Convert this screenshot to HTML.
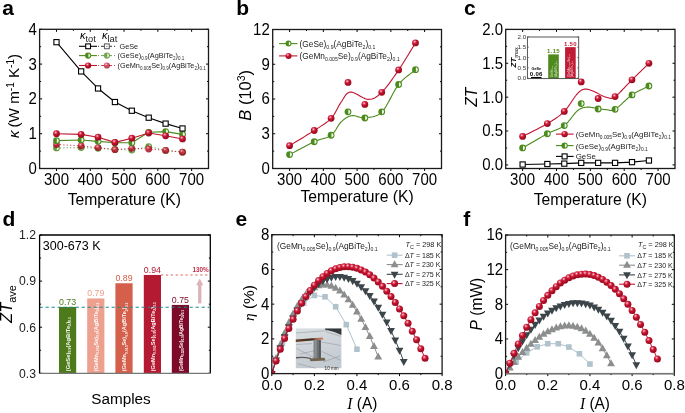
<!DOCTYPE html>
<html><head><meta charset="utf-8"><style>html,body{margin:0;padding:0;background:#fff;}svg{display:block;will-change:transform;}</style></head>
<body><svg width="685" height="413" viewBox="0 0 685 413"><defs><radialGradient id="gr" cx="0.38" cy="0.32" r="0.7"><stop offset="0" stop-color="#ffe4ea"/><stop offset="0.2" stop-color="#e65a72"/><stop offset="0.45" stop-color="#c4122e"/><stop offset="1" stop-color="#920a1e"/></radialGradient><filter id="soft"><feGaussianBlur stdDeviation="0.6"/></filter></defs><rect width="685" height="413" fill="#fff"/><text transform="translate(2.20 15.40)" font-size="21" text-anchor="start" font-weight="bold" font-style="normal" fill="#000" font-family='"Liberation Sans", sans-serif'>a</text><text transform="translate(236.20 15.40)" font-size="21" text-anchor="start" font-weight="bold" font-style="normal" fill="#000" font-family='"Liberation Sans", sans-serif'>b</text><text transform="translate(464.00 15.40)" font-size="21" text-anchor="start" font-weight="bold" font-style="normal" fill="#000" font-family='"Liberation Sans", sans-serif'>c</text><text transform="translate(2.40 226.00)" font-size="21" text-anchor="start" font-weight="bold" font-style="normal" fill="#000" font-family='"Liberation Sans", sans-serif'>d</text><text transform="translate(235.40 226.00)" font-size="21" text-anchor="start" font-weight="bold" font-style="normal" fill="#000" font-family='"Liberation Sans", sans-serif'>e</text><text transform="translate(463.20 226.00)" font-size="21" text-anchor="start" font-weight="bold" font-style="normal" fill="#000" font-family='"Liberation Sans", sans-serif'>f</text><path d="M39.60 168.50h2.5M208.50 168.50h-2.5M39.60 133.70h2.5M208.50 133.70h-2.5M39.60 98.90h2.5M208.50 98.90h-2.5M39.60 64.10h2.5M208.50 64.10h-2.5M39.60 29.30h2.5M208.50 29.30h-2.5M39.60 151.10h1.5M208.50 151.10h-1.5M39.60 116.30h1.5M208.50 116.30h-1.5M39.60 81.50h1.5M208.50 81.50h-1.5M39.60 46.70h1.5M208.50 46.70h-1.5M56.49 168.50v2.5M56.49 29.30v2.5M90.27 168.50v2.5M90.27 29.30v2.5M124.05 168.50v2.5M124.05 29.30v2.5M157.83 168.50v2.5M157.83 29.30v2.5M191.61 168.50v2.5M191.61 29.30v2.5M73.38 168.50v1.5M73.38 29.30v1.5M107.16 168.50v1.5M107.16 29.30v1.5M140.94 168.50v1.5M140.94 29.30v1.5M174.72 168.50v1.5M174.72 29.30v1.5" stroke="#000" stroke-width="1" fill="none"/><text transform="translate(56.49 184.60) scale(1 1.08)" font-size="15" text-anchor="middle" font-weight="normal" font-style="normal" fill="#000" font-family='"Liberation Sans", sans-serif'>300</text><text transform="translate(90.27 184.60) scale(1 1.08)" font-size="15" text-anchor="middle" font-weight="normal" font-style="normal" fill="#000" font-family='"Liberation Sans", sans-serif'>400</text><text transform="translate(124.05 184.60) scale(1 1.08)" font-size="15" text-anchor="middle" font-weight="normal" font-style="normal" fill="#000" font-family='"Liberation Sans", sans-serif'>500</text><text transform="translate(157.83 184.60) scale(1 1.08)" font-size="15" text-anchor="middle" font-weight="normal" font-style="normal" fill="#000" font-family='"Liberation Sans", sans-serif'>600</text><text transform="translate(191.61 184.60) scale(1 1.08)" font-size="15" text-anchor="middle" font-weight="normal" font-style="normal" fill="#000" font-family='"Liberation Sans", sans-serif'>700</text><text transform="translate(36.80 173.90) scale(1 1.08)" font-size="15" text-anchor="end" font-weight="normal" font-style="normal" fill="#000" font-family='"Liberation Sans", sans-serif'>0</text><text transform="translate(36.80 139.10) scale(1 1.08)" font-size="15" text-anchor="end" font-weight="normal" font-style="normal" fill="#000" font-family='"Liberation Sans", sans-serif'>1</text><text transform="translate(36.80 104.30) scale(1 1.08)" font-size="15" text-anchor="end" font-weight="normal" font-style="normal" fill="#000" font-family='"Liberation Sans", sans-serif'>2</text><text transform="translate(36.80 69.50) scale(1 1.08)" font-size="15" text-anchor="end" font-weight="normal" font-style="normal" fill="#000" font-family='"Liberation Sans", sans-serif'>3</text><text transform="translate(36.80 34.70) scale(1 1.08)" font-size="15" text-anchor="end" font-weight="normal" font-style="normal" fill="#000" font-family='"Liberation Sans", sans-serif'>4</text><text transform="translate(124.30 204.90) scale(1 1.05)" font-size="15.7" text-anchor="middle" font-weight="normal" font-style="normal" fill="#000" font-family='"Liberation Sans", sans-serif'>Temperature (K)</text><text transform="translate(18.60 96.00) rotate(-90)" font-size="15.2" text-anchor="middle" font-weight="normal" font-style="normal" fill="#000" font-family='"Liberation Sans", sans-serif'><tspan font-style="italic">κ</tspan><tspan dx="3">(W m</tspan><tspan dy="-5" font-size="10">-1</tspan><tspan dy="5"> K</tspan><tspan dy="-5" font-size="10">-1</tspan><tspan dy="5">)</tspan></text><path d="M56.49 147.97 L81.15 147.62 L98.04 148.32 L114.93 149.36 L131.82 150.06 L148.71 146.58 L165.60 150.40 L182.49 152.14" stroke="#4b8a1c" stroke-width="1.0" fill="none" stroke-dasharray="1.2 2.2" opacity="0.8" stroke-linejoin="round"/><path d="M56.49 144.49 L81.15 145.88 L98.04 147.62 L114.93 149.71 L131.82 148.32 L148.71 149.01 L165.60 150.40 L182.49 152.14" stroke="#c0142e" stroke-width="1.0" fill="none" stroke-dasharray="1.2 2.2" opacity="0.8" stroke-linejoin="round"/><g opacity="0.85"><circle cx="56.49" cy="147.97" r="3.4" fill="#4b8a1c"/><path d="M56.84 145.64A2.35 2.35 0 0 1 56.84 150.29Z" fill="#fff" opacity="0.92"/></g><g opacity="0.85"><circle cx="81.15" cy="147.62" r="3.4" fill="#4b8a1c"/><path d="M81.50 145.30A2.35 2.35 0 0 1 81.50 149.94Z" fill="#fff" opacity="0.92"/></g><g opacity="0.85"><circle cx="98.04" cy="148.32" r="3.4" fill="#4b8a1c"/><path d="M98.39 145.99A2.35 2.35 0 0 1 98.39 150.64Z" fill="#fff" opacity="0.92"/></g><g opacity="0.85"><circle cx="114.93" cy="149.36" r="3.4" fill="#4b8a1c"/><path d="M115.28 147.04A2.35 2.35 0 0 1 115.28 151.68Z" fill="#fff" opacity="0.92"/></g><g opacity="0.85"><circle cx="131.82" cy="150.06" r="3.4" fill="#4b8a1c"/><path d="M132.17 147.73A2.35 2.35 0 0 1 132.17 152.38Z" fill="#fff" opacity="0.92"/></g><g opacity="0.85"><circle cx="148.71" cy="146.58" r="3.4" fill="#4b8a1c"/><path d="M149.06 144.25A2.35 2.35 0 0 1 149.06 148.90Z" fill="#fff" opacity="0.92"/></g><g opacity="0.85"><circle cx="165.60" cy="150.40" r="3.4" fill="#4b8a1c"/><path d="M165.95 148.08A2.35 2.35 0 0 1 165.95 152.73Z" fill="#fff" opacity="0.92"/></g><g opacity="0.85"><circle cx="182.49" cy="152.14" r="3.4" fill="#4b8a1c"/><path d="M182.84 149.82A2.35 2.35 0 0 1 182.84 154.47Z" fill="#fff" opacity="0.92"/></g><circle cx="56.49" cy="144.49" r="3.4" fill="url(#gr)" opacity="0.85"/><circle cx="81.15" cy="145.88" r="3.4" fill="url(#gr)" opacity="0.85"/><circle cx="98.04" cy="147.62" r="3.4" fill="url(#gr)" opacity="0.85"/><circle cx="114.93" cy="149.71" r="3.4" fill="url(#gr)" opacity="0.85"/><circle cx="131.82" cy="148.32" r="3.4" fill="url(#gr)" opacity="0.85"/><circle cx="148.71" cy="149.01" r="3.4" fill="url(#gr)" opacity="0.85"/><circle cx="165.60" cy="150.40" r="3.4" fill="url(#gr)" opacity="0.85"/><circle cx="182.49" cy="152.14" r="3.4" fill="url(#gr)" opacity="0.85"/><path d="M56.49 140.66 L81.15 139.96 L98.04 141.36 L114.93 142.75 L131.82 142.75 L148.71 132.31 L165.60 131.61 L182.49 134.40" stroke="#4b8a1c" stroke-width="1.1" fill="none" opacity="1" stroke-linejoin="round"/><g opacity="1"><circle cx="56.49" cy="140.66" r="3.4" fill="#4b8a1c"/><path d="M56.84 138.34A2.35 2.35 0 0 1 56.84 142.98Z" fill="#fff" opacity="0.92"/></g><g opacity="1"><circle cx="81.15" cy="139.96" r="3.4" fill="#4b8a1c"/><path d="M81.50 137.64A2.35 2.35 0 0 1 81.50 142.29Z" fill="#fff" opacity="0.92"/></g><g opacity="1"><circle cx="98.04" cy="141.36" r="3.4" fill="#4b8a1c"/><path d="M98.39 139.03A2.35 2.35 0 0 1 98.39 143.68Z" fill="#fff" opacity="0.92"/></g><g opacity="1"><circle cx="114.93" cy="142.75" r="3.4" fill="#4b8a1c"/><path d="M115.28 140.42A2.35 2.35 0 0 1 115.28 145.07Z" fill="#fff" opacity="0.92"/></g><g opacity="1"><circle cx="131.82" cy="142.75" r="3.4" fill="#4b8a1c"/><path d="M132.17 140.42A2.35 2.35 0 0 1 132.17 145.07Z" fill="#fff" opacity="0.92"/></g><g opacity="1"><circle cx="148.71" cy="132.31" r="3.4" fill="#4b8a1c"/><path d="M149.06 129.98A2.35 2.35 0 0 1 149.06 134.63Z" fill="#fff" opacity="0.92"/></g><g opacity="1"><circle cx="165.60" cy="131.61" r="3.4" fill="#4b8a1c"/><path d="M165.95 129.29A2.35 2.35 0 0 1 165.95 133.94Z" fill="#fff" opacity="0.92"/></g><g opacity="1"><circle cx="182.49" cy="134.40" r="3.4" fill="#4b8a1c"/><path d="M182.84 132.07A2.35 2.35 0 0 1 182.84 136.72Z" fill="#fff" opacity="0.92"/></g><path d="M56.49 133.70 L81.15 134.40 L98.04 137.18 L114.93 142.40 L131.82 138.22 L148.71 133.00 L165.60 135.79 L182.49 138.92" stroke="#c0142e" stroke-width="1.1" fill="none" opacity="1" stroke-linejoin="round"/><circle cx="56.49" cy="133.70" r="3.4" fill="url(#gr)" opacity="1"/><circle cx="81.15" cy="134.40" r="3.4" fill="url(#gr)" opacity="1"/><circle cx="98.04" cy="137.18" r="3.4" fill="url(#gr)" opacity="1"/><circle cx="114.93" cy="142.40" r="3.4" fill="url(#gr)" opacity="1"/><circle cx="131.82" cy="138.22" r="3.4" fill="url(#gr)" opacity="1"/><circle cx="148.71" cy="133.00" r="3.4" fill="url(#gr)" opacity="1"/><circle cx="165.60" cy="135.79" r="3.4" fill="url(#gr)" opacity="1"/><circle cx="182.49" cy="138.92" r="3.4" fill="url(#gr)" opacity="1"/><path d="M56.49 42.18 L81.15 71.41 L98.04 88.46 L114.93 102.03 L131.82 110.73 L148.71 117.69 L165.60 123.61 L182.49 128.48" stroke="#000" stroke-width="1.1" fill="none" opacity="1" stroke-linejoin="round"/><rect x="53.89" y="39.58" width="5.20" height="5.20" fill="#fff" stroke="#000" stroke-width="1.1"/><rect x="78.55" y="68.81" width="5.20" height="5.20" fill="#fff" stroke="#000" stroke-width="1.1"/><rect x="95.44" y="85.86" width="5.20" height="5.20" fill="#fff" stroke="#000" stroke-width="1.1"/><rect x="112.33" y="99.43" width="5.20" height="5.20" fill="#fff" stroke="#000" stroke-width="1.1"/><rect x="129.22" y="108.13" width="5.20" height="5.20" fill="#fff" stroke="#000" stroke-width="1.1"/><rect x="146.11" y="115.09" width="5.20" height="5.20" fill="#fff" stroke="#000" stroke-width="1.1"/><rect x="163.00" y="121.01" width="5.20" height="5.20" fill="#fff" stroke="#000" stroke-width="1.1"/><rect x="179.89" y="125.88" width="5.20" height="5.20" fill="#fff" stroke="#000" stroke-width="1.1"/><text transform="translate(80.00 38.70)" font-size="11" text-anchor="start" font-weight="normal" font-style="normal" fill="#000" font-family='"Liberation Sans", sans-serif'><tspan font-style="italic">κ</tspan><tspan dy="2.8" font-size="9.4" fill="#222">tot</tspan></text><text transform="translate(102.00 38.70)" font-size="11" text-anchor="start" font-weight="normal" font-style="normal" fill="#000" font-family='"Liberation Sans", sans-serif'><tspan font-style="italic">κ</tspan><tspan dy="2.8" font-size="9.4" fill="#222">lat</tspan></text><path d="M79 46.3H97" stroke="#000" stroke-width="1.1"/><path d="M98 46.3H117" stroke="#000" stroke-width="1" stroke-dasharray="1 2 3 2" opacity="0.8"/><rect x="85.70" y="43.90" width="4.80" height="4.80" fill="#fff" stroke="#000" stroke-width="1.1"/><rect x="104.50" y="43.90" width="4.80" height="4.80" fill="#fff" stroke="#666" stroke-width="1.1"/><circle cx="106.9" cy="46.3" r="0.6" fill="#666"/><path d="M79 55.6H97" stroke="#4b8a1c" stroke-width="1.1"/><path d="M98 55.6H117" stroke="#4b8a1c" stroke-width="1" stroke-dasharray="1 2 3 2" opacity="0.8"/><g opacity="1"><circle cx="88.10" cy="55.60" r="3.1" fill="#4b8a1c"/><path d="M88.45 53.58A2.05 2.05 0 0 1 88.45 57.62Z" fill="#fff" opacity="0.92"/></g><g opacity="0.75"><circle cx="106.90" cy="55.60" r="3.1" fill="#4b8a1c"/><path d="M107.25 53.58A2.05 2.05 0 0 1 107.25 57.62Z" fill="#fff" opacity="0.92"/></g><path d="M79 65.5H97" stroke="#c0142e" stroke-width="1.1"/><path d="M98 65.5H117" stroke="#c0142e" stroke-width="1" stroke-dasharray="1 2 3 2" opacity="0.8"/><circle cx="88.10" cy="65.50" r="3.1" fill="url(#gr)" opacity="1"/><circle cx="106.90" cy="65.50" r="3.1" fill="url(#gr)" opacity="0.75"/><text transform="translate(119.50 48.90)" font-size="7.3" text-anchor="start" font-weight="normal" font-style="normal" fill="#222" font-family='"Liberation Sans", sans-serif'>GeSe</text><text transform="translate(117.60 58.20)" font-size="7.3" text-anchor="start" font-weight="normal" font-style="normal" fill="#222" font-family='"Liberation Sans", sans-serif'><tspan dy="0.00" font-size="7.30">(GeSe)</tspan><tspan dy="2.04" font-size="4.53">0.9</tspan><tspan dy="-2.04" font-size="7.30">(AgBiTe</tspan><tspan dy="2.04" font-size="4.53">2</tspan><tspan dy="-2.04" font-size="7.30">)</tspan><tspan dy="2.04" font-size="4.53">0.1</tspan></text><text transform="translate(117.60 68.10)" font-size="7.3" text-anchor="start" font-weight="normal" font-style="normal" fill="#222" font-family='"Liberation Sans", sans-serif'><tspan dy="0.00" font-size="7.30">(GeMn</tspan><tspan dy="2.04" font-size="4.53">0.005</tspan><tspan dy="-2.04" font-size="7.30">Se)</tspan><tspan dy="2.04" font-size="4.53">0.9</tspan><tspan dy="-2.04" font-size="7.30">(AgBiTe</tspan><tspan dy="2.04" font-size="4.53">2</tspan><tspan dy="-2.04" font-size="7.30">)</tspan><tspan dy="2.04" font-size="4.53">0.1</tspan></text><rect x="39.60" y="29.30" width="168.90" height="139.20" fill="none" stroke="#1a1a1a" stroke-width="1.3"/><path d="M272.70 168.50h2.5M441.50 168.50h-2.5M272.70 133.75h2.5M441.50 133.75h-2.5M272.70 99.00h2.5M441.50 99.00h-2.5M272.70 64.25h2.5M441.50 64.25h-2.5M272.70 29.50h2.5M441.50 29.50h-2.5M272.70 151.12h1.5M441.50 151.12h-1.5M272.70 116.38h1.5M441.50 116.38h-1.5M272.70 81.62h1.5M441.50 81.62h-1.5M272.70 46.88h1.5M441.50 46.88h-1.5M289.58 168.50v2.5M289.58 29.50v2.5M323.34 168.50v2.5M323.34 29.50v2.5M357.10 168.50v2.5M357.10 29.50v2.5M390.86 168.50v2.5M390.86 29.50v2.5M424.62 168.50v2.5M424.62 29.50v2.5M306.46 168.50v1.5M306.46 29.50v1.5M340.22 168.50v1.5M340.22 29.50v1.5M373.98 168.50v1.5M373.98 29.50v1.5M407.74 168.50v1.5M407.74 29.50v1.5" stroke="#000" stroke-width="1" fill="none"/><text transform="translate(289.58 184.60) scale(1 1.08)" font-size="15" text-anchor="middle" font-weight="normal" font-style="normal" fill="#000" font-family='"Liberation Sans", sans-serif'>300</text><text transform="translate(323.34 184.60) scale(1 1.08)" font-size="15" text-anchor="middle" font-weight="normal" font-style="normal" fill="#000" font-family='"Liberation Sans", sans-serif'>400</text><text transform="translate(357.10 184.60) scale(1 1.08)" font-size="15" text-anchor="middle" font-weight="normal" font-style="normal" fill="#000" font-family='"Liberation Sans", sans-serif'>500</text><text transform="translate(390.86 184.60) scale(1 1.08)" font-size="15" text-anchor="middle" font-weight="normal" font-style="normal" fill="#000" font-family='"Liberation Sans", sans-serif'>600</text><text transform="translate(424.62 184.60) scale(1 1.08)" font-size="15" text-anchor="middle" font-weight="normal" font-style="normal" fill="#000" font-family='"Liberation Sans", sans-serif'>700</text><text transform="translate(269.80 173.90) scale(1 1.08)" font-size="15" text-anchor="end" font-weight="normal" font-style="normal" fill="#000" font-family='"Liberation Sans", sans-serif'>0</text><text transform="translate(269.80 139.15) scale(1 1.08)" font-size="15" text-anchor="end" font-weight="normal" font-style="normal" fill="#000" font-family='"Liberation Sans", sans-serif'>3</text><text transform="translate(269.80 104.40) scale(1 1.08)" font-size="15" text-anchor="end" font-weight="normal" font-style="normal" fill="#000" font-family='"Liberation Sans", sans-serif'>6</text><text transform="translate(269.80 69.65) scale(1 1.08)" font-size="15" text-anchor="end" font-weight="normal" font-style="normal" fill="#000" font-family='"Liberation Sans", sans-serif'>9</text><text transform="translate(269.80 34.90) scale(1 1.08)" font-size="15" text-anchor="end" font-weight="normal" font-style="normal" fill="#000" font-family='"Liberation Sans", sans-serif'>12</text><text transform="translate(357.10 201.80) scale(1 1.05)" font-size="15.7" text-anchor="middle" font-weight="normal" font-style="normal" fill="#000" font-family='"Liberation Sans", sans-serif'>Temperature (K)</text><text transform="translate(250.60 95.30) rotate(-90)" font-size="16.5" text-anchor="middle" font-weight="normal" font-style="normal" fill="#000" font-family='"Liberation Sans", sans-serif'><tspan font-style="italic">B</tspan> (10<tspan dy="-6" font-size="10.5">3</tspan><tspan dy="6">)</tspan></text><path d="M289.58 154.60 L291.66 153.51 L293.78 152.38 L295.92 151.24 L298.08 150.08 L300.24 148.92 L302.39 147.77 L304.51 146.65 L306.59 145.56 L308.61 144.51 L310.57 143.52 L312.44 142.59 L314.22 141.74 L315.93 141.00 L317.57 140.37 L319.16 139.83 L320.69 139.35 L322.17 138.92 L323.59 138.51 L324.97 138.10 L326.29 137.67 L327.57 137.19 L328.79 136.65 L329.97 136.01 L331.10 135.26 L332.17 134.38 L333.14 133.38 L334.04 132.29 L334.87 131.14 L335.65 129.94 L336.40 128.71 L337.13 127.49 L337.84 126.29 L338.57 125.13 L339.31 124.04 L340.08 123.05 L340.90 122.17 L341.73 121.37 L342.57 120.61 L343.39 119.88 L344.22 119.20 L345.05 118.57 L345.90 117.98 L346.75 117.45 L347.62 116.97 L348.51 116.55 L349.43 116.20 L350.38 115.90 L351.36 115.68 L352.37 115.57 L353.40 115.61 L354.44 115.75 L355.51 115.99 L356.60 116.28 L357.71 116.61 L358.84 116.93 L360.00 117.24 L361.18 117.49 L362.38 117.66 L363.61 117.72 L364.86 117.65 L366.15 117.52 L367.48 117.41 L368.85 117.30 L370.24 117.17 L371.66 116.98 L373.09 116.72 L374.54 116.35 L375.99 115.85 L377.45 115.20 L378.89 114.38 L380.33 113.35 L381.74 112.09 L383.15 110.52 L384.56 108.62 L385.96 106.45 L387.37 104.06 L388.78 101.52 L390.18 98.88 L391.59 96.22 L393.00 93.58 L394.40 91.03 L395.81 88.63 L397.22 86.44 L398.62 84.52 L400.03 82.84 L401.44 81.31 L402.84 79.92 L404.25 78.63 L405.66 77.44 L407.06 76.31 L408.47 75.23 L409.88 74.16 L411.28 73.10 L412.69 72.02 L414.10 70.89 L415.50 69.69" stroke="#4b8a1c" stroke-width="1.1" fill="none" opacity="1" stroke-linejoin="round"/><path d="M289.58 145.68 L291.66 144.41 L293.78 143.12 L295.92 141.82 L298.08 140.51 L300.24 139.21 L302.39 137.91 L304.51 136.62 L306.59 135.34 L308.61 134.09 L310.57 132.86 L312.44 131.67 L314.22 130.51 L315.93 129.40 L317.57 128.35 L319.16 127.34 L320.69 126.37 L322.17 125.41 L323.59 124.47 L324.97 123.52 L326.29 122.56 L327.57 121.57 L328.79 120.55 L329.97 119.48 L331.10 118.34 L332.17 117.13 L333.15 115.85 L334.06 114.51 L334.91 113.13 L335.70 111.72 L336.46 110.30 L337.20 108.89 L337.92 107.50 L338.64 106.15 L339.37 104.85 L340.11 103.62 L340.90 102.47 L341.67 101.36 L342.39 100.22 L343.08 99.07 L343.76 97.94 L344.43 96.85 L345.12 95.81 L345.83 94.86 L346.58 94.01 L347.40 93.28 L348.29 92.70 L349.27 92.28 L350.35 92.05 L351.56 92.08 L352.89 92.41 L354.33 92.96 L355.85 93.70 L357.43 94.56 L359.04 95.49 L360.67 96.43 L362.29 97.32 L363.88 98.12 L365.41 98.76 L366.88 99.19 L368.24 99.35 L369.51 99.31 L370.71 99.18 L371.85 98.95 L372.94 98.62 L374.01 98.20 L375.06 97.67 L376.10 97.04 L377.16 96.30 L378.23 95.46 L379.35 94.51 L380.52 93.45 L381.74 92.28 L383.03 90.97 L384.36 89.49 L385.73 87.88 L387.12 86.13 L388.54 84.29 L389.97 82.35 L391.42 80.34 L392.87 78.29 L394.33 76.20 L395.77 74.10 L397.21 72.00 L398.62 69.93 L400.03 67.84 L401.44 65.70 L402.84 63.50 L404.25 61.27 L405.66 59.01 L407.06 56.72 L408.47 54.42 L409.88 52.10 L411.28 49.79 L412.69 47.49 L414.10 45.20 L415.50 42.94" stroke="#c0142e" stroke-width="1.1" fill="none" opacity="1" stroke-linejoin="round"/><g opacity="1"><circle cx="289.58" cy="154.60" r="3.4" fill="#4b8a1c"/><path d="M289.93 152.28A2.35 2.35 0 0 1 289.93 156.92Z" fill="#fff" opacity="0.92"/></g><g opacity="1"><circle cx="314.22" cy="141.74" r="3.4" fill="#4b8a1c"/><path d="M314.57 139.42A2.35 2.35 0 0 1 314.57 144.07Z" fill="#fff" opacity="0.92"/></g><g opacity="1"><circle cx="331.10" cy="135.26" r="3.4" fill="#4b8a1c"/><path d="M331.45 132.93A2.35 2.35 0 0 1 331.45 137.58Z" fill="#fff" opacity="0.92"/></g><g opacity="1"><circle cx="347.98" cy="111.86" r="3.4" fill="#4b8a1c"/><path d="M348.33 109.53A2.35 2.35 0 0 1 348.33 114.18Z" fill="#fff" opacity="0.92"/></g><g opacity="1"><circle cx="364.86" cy="118.00" r="3.4" fill="#4b8a1c"/><path d="M365.21 115.67A2.35 2.35 0 0 1 365.21 120.32Z" fill="#fff" opacity="0.92"/></g><g opacity="1"><circle cx="381.74" cy="111.86" r="3.4" fill="#4b8a1c"/><path d="M382.09 109.53A2.35 2.35 0 0 1 382.09 114.18Z" fill="#fff" opacity="0.92"/></g><g opacity="1"><circle cx="398.62" cy="84.52" r="3.4" fill="#4b8a1c"/><path d="M398.97 82.20A2.35 2.35 0 0 1 398.97 86.84Z" fill="#fff" opacity="0.92"/></g><g opacity="1"><circle cx="415.50" cy="69.69" r="3.4" fill="#4b8a1c"/><path d="M415.85 67.37A2.35 2.35 0 0 1 415.85 72.02Z" fill="#fff" opacity="0.92"/></g><circle cx="289.58" cy="145.68" r="3.4" fill="url(#gr)" opacity="1"/><circle cx="314.22" cy="130.51" r="3.4" fill="url(#gr)" opacity="1"/><circle cx="331.10" cy="118.34" r="3.4" fill="url(#gr)" opacity="1"/><circle cx="347.98" cy="82.44" r="3.4" fill="url(#gr)" opacity="1"/><circle cx="364.86" cy="104.44" r="3.4" fill="url(#gr)" opacity="1"/><circle cx="381.74" cy="92.28" r="3.4" fill="url(#gr)" opacity="1"/><circle cx="398.62" cy="69.93" r="3.4" fill="url(#gr)" opacity="1"/><circle cx="415.50" cy="42.94" r="3.4" fill="url(#gr)" opacity="1"/><path d="M279.1 43.6H297.4" stroke="#4b8a1c" stroke-width="1.1"/><g opacity="1"><circle cx="288.50" cy="43.60" r="3.0" fill="#4b8a1c"/><path d="M288.85 41.68A1.95 1.95 0 0 1 288.85 45.52Z" fill="#fff" opacity="0.92"/></g><path d="M279.1 55.9H297.4" stroke="#c0142e" stroke-width="1.1"/><circle cx="288.50" cy="55.90" r="3.0" fill="url(#gr)" opacity="1"/><text transform="translate(299.60 46.60)" font-size="8.3" text-anchor="start" font-weight="normal" font-style="normal" fill="#222" font-family='"Liberation Sans", sans-serif'><tspan dy="0.00" font-size="8.30">(GeSe)</tspan><tspan dy="2.32" font-size="5.15">0.9</tspan><tspan dy="-2.32" font-size="8.30">(AgBiTe</tspan><tspan dy="2.32" font-size="5.15">2</tspan><tspan dy="-2.32" font-size="8.30">)</tspan><tspan dy="2.32" font-size="5.15">0.1</tspan></text><text transform="translate(299.60 58.90)" font-size="8.3" text-anchor="start" font-weight="normal" font-style="normal" fill="#222" font-family='"Liberation Sans", sans-serif'><tspan dy="0.00" font-size="8.30">(GeMn</tspan><tspan dy="2.32" font-size="5.15">0.005</tspan><tspan dy="-2.32" font-size="8.30">Se)</tspan><tspan dy="2.32" font-size="5.15">0.9</tspan><tspan dy="-2.32" font-size="8.30">(AgBiTe</tspan><tspan dy="2.32" font-size="5.15">2</tspan><tspan dy="-2.32" font-size="8.30">)</tspan><tspan dy="2.32" font-size="5.15">0.1</tspan></text><rect x="272.70" y="29.50" width="168.80" height="139.00" fill="none" stroke="#1a1a1a" stroke-width="1.3"/><path d="M505.70 164.91h2.5M675.00 164.91h-2.5M505.70 131.03h2.5M675.00 131.03h-2.5M505.70 97.15h2.5M675.00 97.15h-2.5M505.70 63.28h2.5M675.00 63.28h-2.5M505.70 29.40h2.5M675.00 29.40h-2.5M505.70 147.97h1.5M675.00 147.97h-1.5M505.70 114.09h1.5M675.00 114.09h-1.5M505.70 80.22h1.5M675.00 80.22h-1.5M505.70 46.34h1.5M675.00 46.34h-1.5M522.63 168.50v2.5M522.63 29.40v2.5M556.49 168.50v2.5M556.49 29.40v2.5M590.35 168.50v2.5M590.35 29.40v2.5M624.21 168.50v2.5M624.21 29.40v2.5M658.07 168.50v2.5M658.07 29.40v2.5M539.56 168.50v1.5M539.56 29.40v1.5M573.42 168.50v1.5M573.42 29.40v1.5M607.28 168.50v1.5M607.28 29.40v1.5M641.14 168.50v1.5M641.14 29.40v1.5" stroke="#000" stroke-width="1" fill="none"/><text transform="translate(522.63 184.60) scale(1 1.08)" font-size="15" text-anchor="middle" font-weight="normal" font-style="normal" fill="#000" font-family='"Liberation Sans", sans-serif'>300</text><text transform="translate(556.49 184.60) scale(1 1.08)" font-size="15" text-anchor="middle" font-weight="normal" font-style="normal" fill="#000" font-family='"Liberation Sans", sans-serif'>400</text><text transform="translate(590.35 184.60) scale(1 1.08)" font-size="15" text-anchor="middle" font-weight="normal" font-style="normal" fill="#000" font-family='"Liberation Sans", sans-serif'>500</text><text transform="translate(624.21 184.60) scale(1 1.08)" font-size="15" text-anchor="middle" font-weight="normal" font-style="normal" fill="#000" font-family='"Liberation Sans", sans-serif'>600</text><text transform="translate(658.07 184.60) scale(1 1.08)" font-size="15" text-anchor="middle" font-weight="normal" font-style="normal" fill="#000" font-family='"Liberation Sans", sans-serif'>700</text><text transform="translate(503.00 170.31) scale(1 1.08)" font-size="15" text-anchor="end" font-weight="normal" font-style="normal" fill="#000" font-family='"Liberation Sans", sans-serif'>0.0</text><text transform="translate(503.00 136.43) scale(1 1.08)" font-size="15" text-anchor="end" font-weight="normal" font-style="normal" fill="#000" font-family='"Liberation Sans", sans-serif'>0.5</text><text transform="translate(503.00 102.55) scale(1 1.08)" font-size="15" text-anchor="end" font-weight="normal" font-style="normal" fill="#000" font-family='"Liberation Sans", sans-serif'>1.0</text><text transform="translate(503.00 68.68) scale(1 1.08)" font-size="15" text-anchor="end" font-weight="normal" font-style="normal" fill="#000" font-family='"Liberation Sans", sans-serif'>1.5</text><text transform="translate(503.00 34.80) scale(1 1.08)" font-size="15" text-anchor="end" font-weight="normal" font-style="normal" fill="#000" font-family='"Liberation Sans", sans-serif'>2.0</text><text transform="translate(590.30 204.90) scale(1 1.05)" font-size="15.7" text-anchor="middle" font-weight="normal" font-style="normal" fill="#000" font-family='"Liberation Sans", sans-serif'>Temperature (K)</text><text transform="translate(476.50 97.30) rotate(-90)" font-size="15.6" text-anchor="middle" font-weight="normal" font-style="normal" fill="#000" font-family='"Liberation Sans", sans-serif'><tspan font-style="italic">ZT</tspan></text><path d="M522.63 147.97 L524.71 146.77 L526.84 145.53 L528.99 144.27 L531.16 143.00 L533.32 141.73 L535.48 140.48 L537.60 139.24 L539.69 138.03 L541.72 136.87 L543.68 135.76 L545.56 134.71 L547.35 133.74 L549.04 132.87 L550.66 132.11 L552.22 131.44 L553.71 130.83 L555.14 130.27 L556.53 129.72 L557.88 129.17 L559.20 128.60 L560.49 127.98 L561.76 127.29 L563.02 126.51 L564.28 125.61 L565.52 124.57 L566.74 123.39 L567.93 122.10 L569.09 120.73 L570.23 119.31 L571.35 117.87 L572.43 116.46 L573.50 115.09 L574.53 113.80 L575.54 112.61 L576.53 111.57 L577.48 110.71 L578.40 109.99 L579.26 109.39 L580.08 108.89 L580.86 108.48 L581.61 108.15 L582.35 107.88 L583.08 107.67 L583.82 107.51 L584.56 107.38 L585.33 107.28 L586.13 107.20 L586.96 107.11 L587.84 107.07 L588.76 107.08 L589.70 107.15 L590.66 107.27 L591.64 107.43 L592.61 107.61 L593.59 107.80 L594.55 108.00 L595.50 108.20 L596.41 108.38 L597.30 108.55 L598.14 108.67 L598.94 108.78 L599.71 108.89 L600.44 109.00 L601.16 109.10 L601.86 109.20 L602.54 109.30 L603.21 109.39 L603.88 109.47 L604.55 109.54 L605.22 109.60 L605.91 109.65 L606.60 109.69 L607.28 109.75 L607.92 109.87 L608.52 110.03 L609.11 110.20 L609.70 110.36 L610.31 110.49 L610.94 110.56 L611.62 110.56 L612.36 110.46 L613.17 110.24 L614.07 109.88 L615.07 109.35 L616.18 108.62 L617.40 107.70 L618.71 106.60 L620.08 105.38 L621.52 104.06 L623.00 102.67 L624.51 101.26 L626.04 99.84 L627.57 98.47 L629.08 97.17 L630.56 95.97 L632.00 94.92 L633.41 93.98 L634.82 93.11 L636.23 92.30 L637.64 91.53 L639.05 90.80 L640.46 90.10 L641.87 89.42 L643.28 88.75 L644.70 88.08 L646.11 87.40 L647.52 86.70 L648.93 85.98" stroke="#4b8a1c" stroke-width="1.1" fill="none" opacity="1" stroke-linejoin="round"/><path d="M522.63 136.45 L524.71 135.38 L526.84 134.30 L528.99 133.22 L531.16 132.14 L533.32 131.05 L535.48 129.97 L537.60 128.89 L539.69 127.82 L541.72 126.75 L543.68 125.69 L545.56 124.63 L547.35 123.58 L549.03 122.57 L550.60 121.62 L552.09 120.71 L553.51 119.82 L554.87 118.94 L556.19 118.04 L557.50 117.12 L558.80 116.14 L560.11 115.10 L561.45 113.97 L562.83 112.74 L564.28 111.38 L565.76 109.80 L567.23 107.95 L568.71 105.90 L570.20 103.71 L571.69 101.46 L573.21 99.20 L574.74 97.01 L576.30 94.96 L577.90 93.12 L579.52 91.55 L581.19 90.32 L582.90 89.50 L584.71 89.13 L586.64 89.16 L588.67 89.53 L590.76 90.17 L592.89 91.01 L595.01 91.99 L597.09 93.05 L599.12 94.12 L601.04 95.12 L602.84 96.01 L604.48 96.71 L605.93 97.15 L607.15 97.45 L608.16 97.73 L609.00 97.98 L609.71 98.18 L610.32 98.33 L610.88 98.41 L611.41 98.41 L611.96 98.30 L612.56 98.08 L613.25 97.74 L614.08 97.25 L615.07 96.61 L616.21 95.78 L617.44 94.75 L618.75 93.55 L620.13 92.21 L621.57 90.75 L623.05 89.21 L624.55 87.61 L626.07 85.99 L627.58 84.37 L629.09 82.78 L630.56 81.25 L632.00 79.81 L633.41 78.42 L634.82 77.04 L636.23 75.66 L637.64 74.28 L639.05 72.90 L640.46 71.53 L641.87 70.15 L643.28 68.78 L644.70 67.40 L646.11 66.03 L647.52 64.65 L648.93 63.28" stroke="#c0142e" stroke-width="1.1" fill="none" opacity="1" stroke-linejoin="round"/><path d="M522.63 164.50 L547.35 164.03 L564.28 163.62 L581.21 162.88 L598.14 162.88 L615.07 162.88 L632.00 162.13 L648.93 160.50" stroke="#000" stroke-width="1.1" fill="none" opacity="1" stroke-linejoin="round"/><rect x="520.03" y="161.90" width="5.20" height="5.20" fill="#fff" stroke="#000" stroke-width="1.1"/><rect x="544.75" y="161.43" width="5.20" height="5.20" fill="#fff" stroke="#000" stroke-width="1.1"/><rect x="561.68" y="161.02" width="5.20" height="5.20" fill="#fff" stroke="#000" stroke-width="1.1"/><rect x="578.61" y="160.28" width="5.20" height="5.20" fill="#fff" stroke="#000" stroke-width="1.1"/><rect x="595.54" y="160.28" width="5.20" height="5.20" fill="#fff" stroke="#000" stroke-width="1.1"/><rect x="612.47" y="160.28" width="5.20" height="5.20" fill="#fff" stroke="#000" stroke-width="1.1"/><rect x="629.40" y="159.53" width="5.20" height="5.20" fill="#fff" stroke="#000" stroke-width="1.1"/><rect x="646.33" y="157.90" width="5.20" height="5.20" fill="#fff" stroke="#000" stroke-width="1.1"/><g opacity="1"><circle cx="522.63" cy="147.97" r="3.4" fill="#4b8a1c"/><path d="M522.98 145.65A2.35 2.35 0 0 1 522.98 150.29Z" fill="#fff" opacity="0.92"/></g><g opacity="1"><circle cx="547.35" cy="133.74" r="3.4" fill="#4b8a1c"/><path d="M547.70 131.42A2.35 2.35 0 0 1 547.70 136.07Z" fill="#fff" opacity="0.92"/></g><g opacity="1"><circle cx="564.28" cy="125.61" r="3.4" fill="#4b8a1c"/><path d="M564.63 123.29A2.35 2.35 0 0 1 564.63 127.94Z" fill="#fff" opacity="0.92"/></g><g opacity="1"><circle cx="581.21" cy="103.59" r="3.4" fill="#4b8a1c"/><path d="M581.56 101.27A2.35 2.35 0 0 1 581.56 105.91Z" fill="#fff" opacity="0.92"/></g><g opacity="1"><circle cx="598.14" cy="109.01" r="3.4" fill="#4b8a1c"/><path d="M598.49 106.69A2.35 2.35 0 0 1 598.49 111.34Z" fill="#fff" opacity="0.92"/></g><g opacity="1"><circle cx="615.07" cy="109.35" r="3.4" fill="#4b8a1c"/><path d="M615.42 107.03A2.35 2.35 0 0 1 615.42 111.67Z" fill="#fff" opacity="0.92"/></g><g opacity="1"><circle cx="632.00" cy="94.92" r="3.4" fill="#4b8a1c"/><path d="M632.35 92.59A2.35 2.35 0 0 1 632.35 97.24Z" fill="#fff" opacity="0.92"/></g><g opacity="1"><circle cx="648.93" cy="85.98" r="3.4" fill="#4b8a1c"/><path d="M649.28 83.65A2.35 2.35 0 0 1 649.28 88.30Z" fill="#fff" opacity="0.92"/></g><circle cx="522.63" cy="136.45" r="3.4" fill="url(#gr)" opacity="1"/><circle cx="547.35" cy="123.58" r="3.4" fill="url(#gr)" opacity="1"/><circle cx="564.28" cy="111.38" r="3.4" fill="url(#gr)" opacity="1"/><circle cx="581.21" cy="81.91" r="3.4" fill="url(#gr)" opacity="1"/><circle cx="598.14" cy="98.51" r="3.4" fill="url(#gr)" opacity="1"/><circle cx="615.07" cy="96.61" r="3.4" fill="url(#gr)" opacity="1"/><circle cx="632.00" cy="79.81" r="3.4" fill="url(#gr)" opacity="1"/><circle cx="648.93" cy="63.28" r="3.4" fill="url(#gr)" opacity="1"/><path d="M556.0 134.1H573.6" stroke="#c0142e" stroke-width="1.1"/><circle cx="564.60" cy="134.10" r="3.2" fill="url(#gr)" opacity="1"/><path d="M556.0 145.6H573.6" stroke="#4b8a1c" stroke-width="1.1"/><g opacity="1"><circle cx="564.60" cy="145.60" r="3.2" fill="#4b8a1c"/><path d="M564.95 143.48A2.15 2.15 0 0 1 564.95 147.72Z" fill="#fff" opacity="0.92"/></g><path d="M556.0 156.4H573.6" stroke="#000" stroke-width="1.1"/><rect x="562.10" y="153.90" width="5.00" height="5.00" fill="#fff" stroke="#000" stroke-width="1.1"/><text transform="translate(575.70 137.00)" font-size="7.9" text-anchor="start" font-weight="normal" font-style="normal" fill="#222" font-family='"Liberation Sans", sans-serif'><tspan dy="0.00" font-size="7.90">(GeMn</tspan><tspan dy="2.21" font-size="4.90">0.005</tspan><tspan dy="-2.21" font-size="7.90">Se)</tspan><tspan dy="2.21" font-size="4.90">0.9</tspan><tspan dy="-2.21" font-size="7.90">(AgBiTe</tspan><tspan dy="2.21" font-size="4.90">2</tspan><tspan dy="-2.21" font-size="7.90">)</tspan><tspan dy="2.21" font-size="4.90">0.1</tspan></text><text transform="translate(575.70 148.50)" font-size="7.9" text-anchor="start" font-weight="normal" font-style="normal" fill="#222" font-family='"Liberation Sans", sans-serif'><tspan dy="0.00" font-size="7.90">(GeSe)</tspan><tspan dy="2.21" font-size="4.90">0.9</tspan><tspan dy="-2.21" font-size="7.90">(AgBiTe</tspan><tspan dy="2.21" font-size="4.90">2</tspan><tspan dy="-2.21" font-size="7.90">)</tspan><tspan dy="2.21" font-size="4.90">0.1</tspan></text><text transform="translate(575.70 159.30)" font-size="7.9" text-anchor="start" font-weight="normal" font-style="normal" fill="#222" font-family='"Liberation Sans", sans-serif'>GeSe</text><text transform="translate(526.20 80.39)" font-size="6.2" text-anchor="end" font-weight="normal" font-style="normal" fill="#333" font-family='"Liberation Sans", sans-serif'>0.0</text><path d="M527.4 78.19h1.5M578.7 78.19h-1.5" stroke="#555" stroke-width="0.7"/><text transform="translate(526.20 70.04)" font-size="6.2" text-anchor="end" font-weight="normal" font-style="normal" fill="#333" font-family='"Liberation Sans", sans-serif'>0.5</text><path d="M527.4 67.84h1.5M578.7 67.84h-1.5" stroke="#555" stroke-width="0.7"/><text transform="translate(526.20 59.69)" font-size="6.2" text-anchor="end" font-weight="normal" font-style="normal" fill="#333" font-family='"Liberation Sans", sans-serif'>1.0</text><path d="M527.4 57.49h1.5M578.7 57.49h-1.5" stroke="#555" stroke-width="0.7"/><text transform="translate(526.20 49.34)" font-size="6.2" text-anchor="end" font-weight="normal" font-style="normal" fill="#333" font-family='"Liberation Sans", sans-serif'>1.5</text><path d="M527.4 47.14h1.5M578.7 47.14h-1.5" stroke="#555" stroke-width="0.7"/><text transform="translate(526.20 38.99)" font-size="6.2" text-anchor="end" font-weight="normal" font-style="normal" fill="#333" font-family='"Liberation Sans", sans-serif'>2.0</text><path d="M527.4 36.79h1.5M578.7 36.79h-1.5" stroke="#555" stroke-width="0.7"/><text transform="translate(515.60 57.40) rotate(-90)" font-size="8.1" text-anchor="middle" font-weight="normal" font-style="normal" fill="#000" font-family='"Liberation Sans", sans-serif'><tspan font-style="italic" font-weight="bold">ZT</tspan><tspan dy="2.0" font-size="5.4">max</tspan></text><rect x="531" y="76.94" width="10.50" height="1.66" fill="#000"/><text transform="translate(536.25 75.60)" font-size="6.0" text-anchor="middle" font-weight="bold" font-style="normal" fill="#000" font-family='"Liberation Sans", sans-serif' letter-spacing="0.3">0.06</text><rect x="548.2" y="54.39" width="10.60" height="24.21" fill="#4f8a1e"/><text transform="translate(553.50 53.20)" font-size="6.0" text-anchor="middle" font-weight="bold" font-style="normal" fill="#4f8a1e" font-family='"Liberation Sans", sans-serif' letter-spacing="0.3">1.15</text><rect x="565.1" y="47.14" width="10.60" height="31.46" fill="#c01a34"/><text transform="translate(570.40 45.90)" font-size="6.0" text-anchor="middle" font-weight="bold" font-style="normal" fill="#c01a34" font-family='"Liberation Sans", sans-serif' letter-spacing="0.3">1.50</text><text transform="translate(536.30 70.30)" font-size="3.8" text-anchor="middle" font-weight="bold" font-style="normal" fill="#000" font-family='"Liberation Sans", sans-serif'>GeSe</text><text transform="translate(552.90 77.00) rotate(-90)" font-size="3.2" text-anchor="start" font-weight="normal" font-style="normal" fill="#fff" font-family='"Liberation Sans", sans-serif' opacity="0.85">GeSe<tspan font-size="2.2">0.9</tspan></text><text transform="translate(556.50 77.00) rotate(-90)" font-size="3.2" text-anchor="start" font-weight="normal" font-style="normal" fill="#fff" font-family='"Liberation Sans", sans-serif' opacity="0.85">(AgBiTe<tspan font-size="2.2">2</tspan>)<tspan font-size="2.2">0.1</tspan></text><text transform="translate(569.80 77.00) rotate(-90)" font-size="3.2" text-anchor="start" font-weight="normal" font-style="normal" fill="#fff" font-family='"Liberation Sans", sans-serif' opacity="0.85">(GeMn<tspan font-size="2.2">0.005</tspan>Se)<tspan font-size="2.2">0.9</tspan></text><text transform="translate(573.40 77.00) rotate(-90)" font-size="3.2" text-anchor="start" font-weight="normal" font-style="normal" fill="#fff" font-family='"Liberation Sans", sans-serif' opacity="0.85">(AgBiTe<tspan font-size="2.2">2</tspan>)<tspan font-size="2.2">0.1</tspan></text><rect x="527.4" y="37.0" width="51.30" height="41.60" fill="none" stroke="#444" stroke-width="0.9"/><rect x="505.70" y="29.40" width="169.30" height="139.10" fill="none" stroke="#1a1a1a" stroke-width="1.3"/><path d="M39.60 373.30h2.5M210.30 373.30h-2.5M39.60 327.20h2.5M210.30 327.20h-2.5M39.60 281.10h2.5M210.30 281.10h-2.5M39.60 235.00h2.5M210.30 235.00h-2.5M39.60 350.25h1.5M210.30 350.25h-1.5M39.60 304.15h1.5M210.30 304.15h-1.5M39.60 258.05h1.5M210.30 258.05h-1.5" stroke="#000" stroke-width="1" fill="none"/><path d="M39.6 235H210.3V373.3" fill="none" stroke="#000" stroke-width="1.3"/><text transform="translate(36.00 377.60)" font-size="12.2" text-anchor="end" font-weight="normal" font-style="normal" fill="#222" font-family='"Liberation Sans", sans-serif'>0.3</text><text transform="translate(36.00 331.50)" font-size="12.2" text-anchor="end" font-weight="normal" font-style="normal" fill="#222" font-family='"Liberation Sans", sans-serif'>0.6</text><text transform="translate(36.00 285.40)" font-size="12.2" text-anchor="end" font-weight="normal" font-style="normal" fill="#222" font-family='"Liberation Sans", sans-serif'>0.9</text><text transform="translate(36.00 239.30)" font-size="12.2" text-anchor="end" font-weight="normal" font-style="normal" fill="#222" font-family='"Liberation Sans", sans-serif'>1.2</text><text transform="translate(121.00 403.80)" font-size="15.3" text-anchor="middle" font-weight="normal" font-style="normal" fill="#000" font-family='"Liberation Sans", sans-serif'>Samples</text><text transform="translate(11.50 304.00) rotate(-90)" font-size="16.5" text-anchor="middle" font-weight="normal" font-style="normal" fill="#000" font-family='"Liberation Sans", sans-serif'><tspan font-style="italic">ZT</tspan><tspan dy="4" font-size="11">ave</tspan></text><text transform="translate(42.80 249.80)" font-size="12.5" text-anchor="start" font-weight="normal" font-style="normal" fill="#000" font-family='"Liberation Sans", sans-serif'>300-673 K</text><rect x="59.00" y="306.92" width="17.2" height="66.38" fill="#4d7a1a"/><text transform="translate(67.60 304.72)" font-size="8.8" text-anchor="middle" font-weight="normal" font-style="normal" fill="#4d7a1a" font-family='"Liberation Sans", sans-serif'>0.73</text><rect x="87.20" y="298.46" width="17.2" height="74.84" fill="#eea08f"/><text transform="translate(95.80 296.26)" font-size="8.8" text-anchor="middle" font-weight="normal" font-style="normal" fill="#eea08f" font-family='"Liberation Sans", sans-serif'>0.79</text><rect x="115.40" y="283.25" width="17.2" height="90.05" fill="#d4604c"/><text transform="translate(124.00 281.05)" font-size="8.8" text-anchor="middle" font-weight="normal" font-style="normal" fill="#d4604c" font-family='"Liberation Sans", sans-serif'>0.89</text><rect x="143.80" y="274.95" width="17.2" height="98.35" fill="#b41a32"/><text transform="translate(152.40 272.75)" font-size="8.8" text-anchor="middle" font-weight="normal" font-style="normal" fill="#b41a32" font-family='"Liberation Sans", sans-serif'>0.94</text><rect x="171.80" y="304.92" width="17.2" height="68.38" fill="#7d0a28"/><text transform="translate(180.40 302.72)" font-size="8.8" text-anchor="middle" font-weight="normal" font-style="normal" fill="#7d0a28" font-family='"Liberation Sans", sans-serif'>0.75</text><text transform="translate(69.70 371.30) rotate(-90)" font-size="5.8" text-anchor="start" font-weight="bold" font-style="normal" fill="#fff" font-family='"Liberation Sans", sans-serif' opacity="0.95"><tspan dy="0.00" font-size="5.80">(GeSe)</tspan><tspan dy="1.62" font-size="3.60">0.9</tspan><tspan dy="-1.62" font-size="5.80">(AgBiTe</tspan><tspan dy="1.62" font-size="3.60">2</tspan><tspan dy="-1.62" font-size="5.80">)</tspan><tspan dy="1.62" font-size="3.60">0.1</tspan></text><text transform="translate(97.90 371.30) rotate(-90)" font-size="5.55" text-anchor="start" font-weight="bold" font-style="normal" fill="#fff" font-family='"Liberation Sans", sans-serif' opacity="0.95"><tspan dy="0.00" font-size="5.55">(GeMn</tspan><tspan dy="1.55" font-size="3.44">0.005</tspan><tspan dy="-1.55" font-size="5.55">Se)</tspan><tspan dy="1.55" font-size="3.44">0.9</tspan><tspan dy="-1.55" font-size="5.55">(AgBiTe</tspan><tspan dy="1.55" font-size="3.44">2</tspan><tspan dy="-1.55" font-size="5.55">)</tspan><tspan dy="1.55" font-size="3.44">0.1</tspan></text><text transform="translate(126.10 371.30) rotate(-90)" font-size="5.55" text-anchor="start" font-weight="bold" font-style="normal" fill="#fff" font-family='"Liberation Sans", sans-serif' opacity="0.95"><tspan dy="0.00" font-size="5.55">(GeMn</tspan><tspan dy="1.55" font-size="3.44">0.010</tspan><tspan dy="-1.55" font-size="5.55">Se)</tspan><tspan dy="1.55" font-size="3.44">0.9</tspan><tspan dy="-1.55" font-size="5.55">(AgBiTe</tspan><tspan dy="1.55" font-size="3.44">2</tspan><tspan dy="-1.55" font-size="5.55">)</tspan><tspan dy="1.55" font-size="3.44">0.1</tspan></text><text transform="translate(154.50 371.30) rotate(-90)" font-size="5.6" text-anchor="start" font-weight="bold" font-style="normal" fill="#fff" font-family='"Liberation Sans", sans-serif' opacity="0.95"><tspan dy="0.00" font-size="5.60">(GeMn</tspan><tspan dy="1.57" font-size="3.47">0.005</tspan><tspan dy="-1.57" font-size="5.60">Se)</tspan><tspan dy="1.57" font-size="3.47">0.9</tspan><tspan dy="-1.57" font-size="5.60">(AgBiTe</tspan><tspan dy="1.57" font-size="3.47">2</tspan><tspan dy="-1.57" font-size="5.60">)</tspan><tspan dy="1.57" font-size="3.47">0.1</tspan></text><text transform="translate(182.50 371.30) rotate(-90)" font-size="4.95" text-anchor="start" font-weight="bold" font-style="normal" fill="#fff" font-family='"Liberation Sans", sans-serif' opacity="0.95"><tspan dy="0.00" font-size="4.95">(GeMn</tspan><tspan dy="1.39" font-size="3.07">0.020</tspan><tspan dy="-1.39" font-size="4.95">Se)</tspan><tspan dy="1.39" font-size="3.07">0.9</tspan><tspan dy="-1.39" font-size="4.95">(AgBiTe</tspan><tspan dy="1.39" font-size="3.07">2</tspan><tspan dy="-1.39" font-size="4.95">)</tspan><tspan dy="1.39" font-size="3.07">0.1</tspan></text><path d="M39.6 307.22H210.3" stroke="#1a8a90" stroke-width="1.1" stroke-dasharray="3.2 2.8"/><path d="M161 274.95H209.3" stroke="#e06060" stroke-width="1.1" stroke-dasharray="2.2 2.7"/><text transform="translate(208.80 271.80)" font-size="6.4" text-anchor="end" font-weight="bold" font-style="normal" fill="#c0304a" font-family='"Liberation Sans", sans-serif'>130%</text><path d="M199.75 303.4V284.5" stroke="#dcb2ba" stroke-width="3.3"/><path d="M196.2 285.2L199.75 278.5L203.3 285.2Z" fill="#dcb2ba"/><path d="M39.6 373.3H210.3" stroke="#777" stroke-width="1.3"/><path d="M39.6 235V373.3" stroke="#000" stroke-width="1.3"/><defs><linearGradient id="pbg" x1="0" y1="0" x2="0.3" y2="1"><stop offset="0" stop-color="#d9dee2"/><stop offset="1" stop-color="#c3cad0"/></linearGradient><linearGradient id="pcu" x1="0" y1="0" x2="1" y2="0"><stop offset="0" stop-color="#6a4028"/><stop offset="0.6" stop-color="#3e2a20"/><stop offset="0.75" stop-color="#a86848"/><stop offset="1" stop-color="#c88060"/></linearGradient><filter id="soft2" x="-5%" y="-5%" width="110%" height="110%"><feGaussianBlur stdDeviation="0.45"/></filter></defs><g filter="url(#soft2)"><rect x="295.8" y="328.4" width="45.6" height="39.8" fill="url(#pbg)"/><path d="M325 328.4H341.4V335Q334 331.5 325 329.6Z" fill="#34383b"/><path d="M296.4 348.3L314.6 358M321.4 351.2L340.8 360.3M297.5 363.7L315.8 368.2M321.4 342L340.8 345.5M326 331.8L340.8 336.4M296 344.5L312 343.6M296 333L328 330.5M300 354L318 350M323 362L340 356" stroke="#8f989e" stroke-width="0.55" fill="none"/><path d="M296 357.8Q304 356.6 311 358.6" stroke="#3e3630" stroke-width="1.4" fill="none" opacity="0.75"/><path d="M295.8 339.4L322.5 337.6L323.4 339.4L295.8 342Z" fill="url(#pcu)"/><rect x="313.6" y="340" width="7.2" height="18.8" fill="#6f7376"/><rect x="314.4" y="340" width="2.2" height="18.8" fill="#8e9296"/><rect x="318.9" y="340" width="1.9" height="18.8" fill="#55585b"/><path d="M309.5 358.4L324.5 357.8L325.5 360.6L310.5 361.2Z" fill="#6e624f"/></g><text transform="translate(331.60 369.60)" font-size="4.6" text-anchor="middle" font-weight="normal" font-style="normal" fill="#222" font-family='"Liberation Sans", sans-serif'>10 mm</text><path d="M271.80 373.60h2.5M442.10 373.60h-2.5M271.80 338.88h2.5M442.10 338.88h-2.5M271.80 304.15h2.5M442.10 304.15h-2.5M271.80 269.43h2.5M442.10 269.43h-2.5M271.80 234.70h2.5M442.10 234.70h-2.5M271.80 356.24h1.5M442.10 356.24h-1.5M271.80 321.51h1.5M442.10 321.51h-1.5M271.80 286.79h1.5M442.10 286.79h-1.5M271.80 252.06h1.5M442.10 252.06h-1.5M271.80 373.60v2.5M271.80 234.70v2.5M314.38 373.60v2.5M314.38 234.70v2.5M356.95 373.60v2.5M356.95 234.70v2.5M399.52 373.60v2.5M399.52 234.70v2.5M442.10 373.60v2.5M442.10 234.70v2.5M293.09 373.60v1.5M293.09 234.70v1.5M335.66 373.60v1.5M335.66 234.70v1.5M378.24 373.60v1.5M378.24 234.70v1.5M420.81 373.60v1.5M420.81 234.70v1.5" stroke="#000" stroke-width="1" fill="none"/><text transform="translate(271.80 389.50) scale(1 0.97)" font-size="15" text-anchor="middle" font-weight="normal" font-style="normal" fill="#000" font-family='"Liberation Sans", sans-serif'>0.0</text><text transform="translate(314.38 389.50) scale(1 0.97)" font-size="15" text-anchor="middle" font-weight="normal" font-style="normal" fill="#000" font-family='"Liberation Sans", sans-serif'>0.2</text><text transform="translate(356.95 389.50) scale(1 0.97)" font-size="15" text-anchor="middle" font-weight="normal" font-style="normal" fill="#000" font-family='"Liberation Sans", sans-serif'>0.4</text><text transform="translate(399.52 389.50) scale(1 0.97)" font-size="15" text-anchor="middle" font-weight="normal" font-style="normal" fill="#000" font-family='"Liberation Sans", sans-serif'>0.6</text><text transform="translate(442.10 389.50) scale(1 0.97)" font-size="15" text-anchor="middle" font-weight="normal" font-style="normal" fill="#000" font-family='"Liberation Sans", sans-serif'>0.8</text><text transform="translate(269.30 379.00) scale(1 1.08)" font-size="15" text-anchor="end" font-weight="normal" font-style="normal" fill="#000" font-family='"Liberation Sans", sans-serif'>0</text><text transform="translate(269.30 344.27) scale(1 1.08)" font-size="15" text-anchor="end" font-weight="normal" font-style="normal" fill="#000" font-family='"Liberation Sans", sans-serif'>2</text><text transform="translate(269.30 309.55) scale(1 1.08)" font-size="15" text-anchor="end" font-weight="normal" font-style="normal" fill="#000" font-family='"Liberation Sans", sans-serif'>4</text><text transform="translate(269.30 274.82) scale(1 1.08)" font-size="15" text-anchor="end" font-weight="normal" font-style="normal" fill="#000" font-family='"Liberation Sans", sans-serif'>6</text><text transform="translate(269.30 240.10) scale(1 1.08)" font-size="15" text-anchor="end" font-weight="normal" font-style="normal" fill="#000" font-family='"Liberation Sans", sans-serif'>8</text><clipPath id="clip271"><rect x="271.80" y="234.70" width="170.30" height="138.90"/></clipPath><g clip-path="url(#clip271)"><path d="M271.80 373.60 L282.44 343.13 L293.09 319.18 L303.73 303.03 L314.38 295.47 L325.02 296.78 L335.66 306.75 L346.31 324.65 L356.95 349.24" stroke="#b0c2cc" stroke-width="1.0" fill="none" opacity="1" stroke-linejoin="round"/><rect x="269.00" y="370.80" width="5.60" height="5.60" fill="#b0c2cc" stroke="#b0c2cc" stroke-width="0"/><rect x="279.64" y="340.33" width="5.60" height="5.60" fill="#b0c2cc" stroke="#b0c2cc" stroke-width="0"/><rect x="290.29" y="316.38" width="5.60" height="5.60" fill="#b0c2cc" stroke="#b0c2cc" stroke-width="0"/><rect x="300.93" y="300.23" width="5.60" height="5.60" fill="#b0c2cc" stroke="#b0c2cc" stroke-width="0"/><rect x="311.57" y="292.67" width="5.60" height="5.60" fill="#b0c2cc" stroke="#b0c2cc" stroke-width="0"/><rect x="322.22" y="293.98" width="5.60" height="5.60" fill="#b0c2cc" stroke="#b0c2cc" stroke-width="0"/><rect x="332.86" y="303.95" width="5.60" height="5.60" fill="#b0c2cc" stroke="#b0c2cc" stroke-width="0"/><rect x="343.51" y="321.85" width="5.60" height="5.60" fill="#b0c2cc" stroke="#b0c2cc" stroke-width="0"/><rect x="354.15" y="346.44" width="5.60" height="5.60" fill="#b0c2cc" stroke="#b0c2cc" stroke-width="0"/><path d="M271.80 373.60 L276.06 358.41 L280.31 344.94 L284.57 333.08 L288.83 322.71 L293.09 313.75 L297.35 306.12 L301.60 299.75 L305.86 294.56 L310.12 290.52 L314.38 287.57 L318.63 285.67 L322.89 284.79 L327.15 284.89 L331.41 285.97 L335.66 287.98 L339.92 290.93 L344.18 294.79 L348.44 299.54 L352.69 305.19 L356.95 311.71 L361.21 319.09 L365.47 327.32 L369.72 336.39 L373.98 346.27 L378.24 356.93" stroke="#8c8e8e" stroke-width="1.0" fill="none" opacity="1" stroke-linejoin="round"/><path d="M271.80 369.25L275.70 376.27L267.90 376.27Z" fill="#8c8e8e"/><path d="M276.06 354.06L279.96 361.08L272.16 361.08Z" fill="#8c8e8e"/><path d="M280.31 340.59L284.21 347.61L276.42 347.61Z" fill="#8c8e8e"/><path d="M284.57 328.73L288.47 335.75L280.67 335.75Z" fill="#8c8e8e"/><path d="M288.83 318.36L292.73 325.38L284.93 325.38Z" fill="#8c8e8e"/><path d="M293.09 309.40L296.99 316.42L289.19 316.42Z" fill="#8c8e8e"/><path d="M297.35 301.77L301.25 308.79L293.45 308.79Z" fill="#8c8e8e"/><path d="M301.60 295.39L305.50 302.41L297.70 302.41Z" fill="#8c8e8e"/><path d="M305.86 290.21L309.76 297.23L301.96 297.23Z" fill="#8c8e8e"/><path d="M310.12 286.17L314.02 293.19L306.22 293.19Z" fill="#8c8e8e"/><path d="M314.38 283.22L318.27 290.24L310.48 290.24Z" fill="#8c8e8e"/><path d="M318.63 281.32L322.53 288.34L314.73 288.34Z" fill="#8c8e8e"/><path d="M322.89 280.43L326.79 287.45L318.99 287.45Z" fill="#8c8e8e"/><path d="M327.15 280.54L331.05 287.56L323.25 287.56Z" fill="#8c8e8e"/><path d="M331.41 281.61L335.31 288.63L327.51 288.63Z" fill="#8c8e8e"/><path d="M335.66 283.63L339.56 290.65L331.76 290.65Z" fill="#8c8e8e"/><path d="M339.92 286.58L343.82 293.60L336.02 293.60Z" fill="#8c8e8e"/><path d="M344.18 290.43L348.08 297.45L340.28 297.45Z" fill="#8c8e8e"/><path d="M348.44 295.19L352.33 302.21L344.54 302.21Z" fill="#8c8e8e"/><path d="M352.69 300.84L356.59 307.86L348.79 307.86Z" fill="#8c8e8e"/><path d="M356.95 307.36L360.85 314.38L353.05 314.38Z" fill="#8c8e8e"/><path d="M361.21 314.74L365.11 321.76L357.31 321.76Z" fill="#8c8e8e"/><path d="M365.47 322.97L369.37 329.99L361.57 329.99Z" fill="#8c8e8e"/><path d="M369.72 332.04L373.62 339.06L365.82 339.06Z" fill="#8c8e8e"/><path d="M373.98 341.91L377.88 348.93L370.08 348.93Z" fill="#8c8e8e"/><path d="M378.24 352.58L382.14 359.60L374.34 359.60Z" fill="#8c8e8e"/><path d="M271.80 373.60 L276.06 360.21 L280.31 348.02 L284.57 336.98 L288.83 327.03 L293.09 318.12 L297.35 310.19 L301.60 303.20 L305.86 297.11 L310.12 291.87 L314.38 287.46 L318.63 283.84 L322.89 280.98 L327.15 278.86 L331.41 277.46 L335.66 276.76 L339.92 276.75 L344.18 277.42 L348.44 278.77 L352.69 280.78 L356.95 283.47 L361.21 286.84 L365.47 290.90 L369.72 295.65 L373.98 301.13 L378.24 307.34 L382.50 314.31 L386.75 322.07 L391.01 330.66 L395.27 340.09 L399.52 350.43 L403.78 361.69" stroke="#3c454a" stroke-width="1.0" fill="none" opacity="1" stroke-linejoin="round"/><path d="M271.80 377.95L275.70 370.93L267.90 370.93Z" fill="#3c454a"/><path d="M276.06 364.56L279.96 357.54L272.16 357.54Z" fill="#3c454a"/><path d="M280.31 352.37L284.21 345.35L276.42 345.35Z" fill="#3c454a"/><path d="M284.57 341.33L288.47 334.31L280.67 334.31Z" fill="#3c454a"/><path d="M288.83 331.38L292.73 324.36L284.93 324.36Z" fill="#3c454a"/><path d="M293.09 322.47L296.99 315.45L289.19 315.45Z" fill="#3c454a"/><path d="M297.35 314.54L301.25 307.52L293.45 307.52Z" fill="#3c454a"/><path d="M301.60 307.55L305.50 300.53L297.70 300.53Z" fill="#3c454a"/><path d="M305.86 301.46L309.76 294.44L301.96 294.44Z" fill="#3c454a"/><path d="M310.12 296.23L314.02 289.21L306.22 289.21Z" fill="#3c454a"/><path d="M314.38 291.81L318.27 284.79L310.48 284.79Z" fill="#3c454a"/><path d="M318.63 288.19L322.53 281.17L314.73 281.17Z" fill="#3c454a"/><path d="M322.89 285.33L326.79 278.31L318.99 278.31Z" fill="#3c454a"/><path d="M327.15 283.22L331.05 276.20L323.25 276.20Z" fill="#3c454a"/><path d="M331.41 281.82L335.31 274.80L327.51 274.80Z" fill="#3c454a"/><path d="M335.66 281.12L339.56 274.10L331.76 274.10Z" fill="#3c454a"/><path d="M339.92 281.11L343.82 274.09L336.02 274.09Z" fill="#3c454a"/><path d="M344.18 281.78L348.08 274.76L340.28 274.76Z" fill="#3c454a"/><path d="M348.44 283.12L352.33 276.10L344.54 276.10Z" fill="#3c454a"/><path d="M352.69 285.14L356.59 278.12L348.79 278.12Z" fill="#3c454a"/><path d="M356.95 287.83L360.85 280.81L353.05 280.81Z" fill="#3c454a"/><path d="M361.21 291.19L365.11 284.17L357.31 284.17Z" fill="#3c454a"/><path d="M365.47 295.25L369.37 288.23L361.57 288.23Z" fill="#3c454a"/><path d="M369.72 300.01L373.62 292.99L365.82 292.99Z" fill="#3c454a"/><path d="M373.98 305.48L377.88 298.46L370.08 298.46Z" fill="#3c454a"/><path d="M378.24 311.69L382.14 304.67L374.34 304.67Z" fill="#3c454a"/><path d="M382.50 318.67L386.39 311.65L378.60 311.65Z" fill="#3c454a"/><path d="M386.75 326.43L390.65 319.41L382.85 319.41Z" fill="#3c454a"/><path d="M391.01 335.01L394.91 327.99L387.11 327.99Z" fill="#3c454a"/><path d="M395.27 344.45L399.17 337.43L391.37 337.43Z" fill="#3c454a"/><path d="M399.52 354.78L403.42 347.76L395.62 347.76Z" fill="#3c454a"/><path d="M403.78 366.04L407.68 359.02L399.88 359.02Z" fill="#3c454a"/><path d="M271.80 373.60 L276.06 360.96 L280.31 349.24 L284.57 338.39 L288.83 328.40 L293.09 319.24 L297.35 310.89 L301.60 303.33 L305.86 296.54 L310.12 290.50 L314.38 285.18 L318.63 280.56 L322.89 276.64 L327.15 273.39 L331.41 270.80 L335.66 268.85 L339.92 267.53 L344.18 266.82 L348.44 266.72 L352.69 267.20 L356.95 268.26 L361.21 269.89 L365.47 272.08 L369.72 274.82 L373.98 278.11 L378.24 281.93 L382.50 286.28 L386.75 291.15 L391.01 296.55 L395.27 302.47 L399.52 308.90 L403.78 315.85 L408.04 323.31 L412.30 331.29 L416.56 339.78 L420.81 348.78 L425.07 358.31" stroke="#c0142e" stroke-width="1.0" fill="none" opacity="1" stroke-linejoin="round"/><circle cx="271.80" cy="373.60" r="3.5" fill="url(#gr)" opacity="1"/><circle cx="276.06" cy="360.96" r="3.5" fill="url(#gr)" opacity="1"/><circle cx="280.31" cy="349.24" r="3.5" fill="url(#gr)" opacity="1"/><circle cx="284.57" cy="338.39" r="3.5" fill="url(#gr)" opacity="1"/><circle cx="288.83" cy="328.40" r="3.5" fill="url(#gr)" opacity="1"/><circle cx="293.09" cy="319.24" r="3.5" fill="url(#gr)" opacity="1"/><circle cx="297.35" cy="310.89" r="3.5" fill="url(#gr)" opacity="1"/><circle cx="301.60" cy="303.33" r="3.5" fill="url(#gr)" opacity="1"/><circle cx="305.86" cy="296.54" r="3.5" fill="url(#gr)" opacity="1"/><circle cx="310.12" cy="290.50" r="3.5" fill="url(#gr)" opacity="1"/><circle cx="314.38" cy="285.18" r="3.5" fill="url(#gr)" opacity="1"/><circle cx="318.63" cy="280.56" r="3.5" fill="url(#gr)" opacity="1"/><circle cx="322.89" cy="276.64" r="3.5" fill="url(#gr)" opacity="1"/><circle cx="327.15" cy="273.39" r="3.5" fill="url(#gr)" opacity="1"/><circle cx="331.41" cy="270.80" r="3.5" fill="url(#gr)" opacity="1"/><circle cx="335.66" cy="268.85" r="3.5" fill="url(#gr)" opacity="1"/><circle cx="339.92" cy="267.53" r="3.5" fill="url(#gr)" opacity="1"/><circle cx="344.18" cy="266.82" r="3.5" fill="url(#gr)" opacity="1"/><circle cx="348.44" cy="266.72" r="3.5" fill="url(#gr)" opacity="1"/><circle cx="352.69" cy="267.20" r="3.5" fill="url(#gr)" opacity="1"/><circle cx="356.95" cy="268.26" r="3.5" fill="url(#gr)" opacity="1"/><circle cx="361.21" cy="269.89" r="3.5" fill="url(#gr)" opacity="1"/><circle cx="365.47" cy="272.08" r="3.5" fill="url(#gr)" opacity="1"/><circle cx="369.72" cy="274.82" r="3.5" fill="url(#gr)" opacity="1"/><circle cx="373.98" cy="278.11" r="3.5" fill="url(#gr)" opacity="1"/><circle cx="378.24" cy="281.93" r="3.5" fill="url(#gr)" opacity="1"/><circle cx="382.50" cy="286.28" r="3.5" fill="url(#gr)" opacity="1"/><circle cx="386.75" cy="291.15" r="3.5" fill="url(#gr)" opacity="1"/><circle cx="391.01" cy="296.55" r="3.5" fill="url(#gr)" opacity="1"/><circle cx="395.27" cy="302.47" r="3.5" fill="url(#gr)" opacity="1"/><circle cx="399.52" cy="308.90" r="3.5" fill="url(#gr)" opacity="1"/><circle cx="403.78" cy="315.85" r="3.5" fill="url(#gr)" opacity="1"/><circle cx="408.04" cy="323.31" r="3.5" fill="url(#gr)" opacity="1"/><circle cx="412.30" cy="331.29" r="3.5" fill="url(#gr)" opacity="1"/><circle cx="416.56" cy="339.78" r="3.5" fill="url(#gr)" opacity="1"/><circle cx="420.81" cy="348.78" r="3.5" fill="url(#gr)" opacity="1"/><circle cx="425.07" cy="358.31" r="3.5" fill="url(#gr)" opacity="1"/></g><text transform="translate(253.80 303.10) rotate(-90)" font-size="15.4" text-anchor="middle" font-weight="normal" font-style="normal" fill="#000" font-family='"Liberation Sans", sans-serif'><tspan font-family='"Liberation Serif", serif' font-style="italic">η</tspan> (%)</text><text transform="translate(362.30 409.40) scale(1 1.05)" font-size="15.4" text-anchor="middle" font-weight="normal" font-style="normal" fill="#000" font-family='"Liberation Sans", sans-serif'><tspan font-family='"Liberation Serif", serif' font-style="italic">I</tspan> (A)</text><path d="M505.60 373.60h2.5M674.30 373.60h-2.5M505.60 338.95h2.5M674.30 338.95h-2.5M505.60 304.30h2.5M674.30 304.30h-2.5M505.60 269.65h2.5M674.30 269.65h-2.5M505.60 235.00h2.5M674.30 235.00h-2.5M505.60 356.28h1.5M674.30 356.28h-1.5M505.60 321.62h1.5M674.30 321.62h-1.5M505.60 286.98h1.5M674.30 286.98h-1.5M505.60 252.32h1.5M674.30 252.32h-1.5M505.60 373.60v2.5M505.60 235.00v2.5M547.77 373.60v2.5M547.77 235.00v2.5M589.95 373.60v2.5M589.95 235.00v2.5M632.12 373.60v2.5M632.12 235.00v2.5M674.30 373.60v2.5M674.30 235.00v2.5M526.69 373.60v1.5M526.69 235.00v1.5M568.86 373.60v1.5M568.86 235.00v1.5M611.04 373.60v1.5M611.04 235.00v1.5M653.21 373.60v1.5M653.21 235.00v1.5" stroke="#000" stroke-width="1" fill="none"/><text transform="translate(505.60 389.50) scale(1 0.97)" font-size="15" text-anchor="middle" font-weight="normal" font-style="normal" fill="#000" font-family='"Liberation Sans", sans-serif'>0.0</text><text transform="translate(547.77 389.50) scale(1 0.97)" font-size="15" text-anchor="middle" font-weight="normal" font-style="normal" fill="#000" font-family='"Liberation Sans", sans-serif'>0.2</text><text transform="translate(589.95 389.50) scale(1 0.97)" font-size="15" text-anchor="middle" font-weight="normal" font-style="normal" fill="#000" font-family='"Liberation Sans", sans-serif'>0.4</text><text transform="translate(632.12 389.50) scale(1 0.97)" font-size="15" text-anchor="middle" font-weight="normal" font-style="normal" fill="#000" font-family='"Liberation Sans", sans-serif'>0.6</text><text transform="translate(674.30 389.50) scale(1 0.97)" font-size="15" text-anchor="middle" font-weight="normal" font-style="normal" fill="#000" font-family='"Liberation Sans", sans-serif'>0.8</text><text transform="translate(503.10 379.00) scale(1 1.08)" font-size="15" text-anchor="end" font-weight="normal" font-style="normal" fill="#000" font-family='"Liberation Sans", sans-serif'>0</text><text transform="translate(503.10 344.35) scale(1 1.08)" font-size="15" text-anchor="end" font-weight="normal" font-style="normal" fill="#000" font-family='"Liberation Sans", sans-serif'>4</text><text transform="translate(503.10 309.70) scale(1 1.08)" font-size="15" text-anchor="end" font-weight="normal" font-style="normal" fill="#000" font-family='"Liberation Sans", sans-serif'>8</text><text transform="translate(503.10 275.05) scale(1 1.08)" font-size="15" text-anchor="end" font-weight="normal" font-style="normal" fill="#000" font-family='"Liberation Sans", sans-serif'>12</text><text transform="translate(503.10 240.40) scale(1 1.08)" font-size="15" text-anchor="end" font-weight="normal" font-style="normal" fill="#000" font-family='"Liberation Sans", sans-serif'>16</text><clipPath id="clip505"><rect x="505.60" y="235.00" width="168.70" height="138.60"/></clipPath><g clip-path="url(#clip505)"><path d="M505.60 373.60 L516.14 361.88 L526.69 352.90 L537.23 346.79 L547.77 343.69 L558.32 343.74 L568.86 347.06 L579.41 353.79 L589.95 364.05" stroke="#b0c2cc" stroke-width="1.0" fill="none" opacity="1" stroke-linejoin="round"/><rect x="502.80" y="370.80" width="5.60" height="5.60" fill="#b0c2cc" stroke="#b0c2cc" stroke-width="0"/><rect x="513.34" y="359.08" width="5.60" height="5.60" fill="#b0c2cc" stroke="#b0c2cc" stroke-width="0"/><rect x="523.89" y="350.10" width="5.60" height="5.60" fill="#b0c2cc" stroke="#b0c2cc" stroke-width="0"/><rect x="534.43" y="343.99" width="5.60" height="5.60" fill="#b0c2cc" stroke="#b0c2cc" stroke-width="0"/><rect x="544.98" y="340.89" width="5.60" height="5.60" fill="#b0c2cc" stroke="#b0c2cc" stroke-width="0"/><rect x="555.52" y="340.94" width="5.60" height="5.60" fill="#b0c2cc" stroke="#b0c2cc" stroke-width="0"/><rect x="566.06" y="344.26" width="5.60" height="5.60" fill="#b0c2cc" stroke="#b0c2cc" stroke-width="0"/><rect x="576.61" y="350.99" width="5.60" height="5.60" fill="#b0c2cc" stroke="#b0c2cc" stroke-width="0"/><rect x="587.15" y="361.25" width="5.60" height="5.60" fill="#b0c2cc" stroke="#b0c2cc" stroke-width="0"/><path d="M505.60 373.60 L509.82 367.74 L514.03 362.26 L518.25 357.17 L522.47 352.44 L526.69 348.06 L530.90 344.04 L535.12 340.39 L539.34 337.09 L543.56 334.17 L547.77 331.64 L551.99 329.52 L556.21 327.84 L560.43 326.61 L564.64 325.87 L568.86 325.66 L573.08 326.02 L577.30 326.99 L581.51 328.63 L585.73 330.97 L589.95 334.09 L594.17 338.04 L598.38 342.88 L602.60 348.70 L606.82 355.55 L611.04 363.53" stroke="#8c8e8e" stroke-width="1.0" fill="none" opacity="1" stroke-linejoin="round"/><path d="M505.60 369.25L509.50 376.27L501.70 376.27Z" fill="#8c8e8e"/><path d="M509.82 363.38L513.72 370.40L505.92 370.40Z" fill="#8c8e8e"/><path d="M514.03 357.91L517.93 364.93L510.13 364.93Z" fill="#8c8e8e"/><path d="M518.25 352.82L522.15 359.84L514.35 359.84Z" fill="#8c8e8e"/><path d="M522.47 348.08L526.37 355.10L518.57 355.10Z" fill="#8c8e8e"/><path d="M526.69 343.71L530.59 350.73L522.79 350.73Z" fill="#8c8e8e"/><path d="M530.90 339.69L534.80 346.71L527.00 346.71Z" fill="#8c8e8e"/><path d="M535.12 336.03L539.02 343.05L531.22 343.05Z" fill="#8c8e8e"/><path d="M539.34 332.74L543.24 339.76L535.44 339.76Z" fill="#8c8e8e"/><path d="M543.56 329.82L547.46 336.84L539.66 336.84Z" fill="#8c8e8e"/><path d="M547.77 327.29L551.67 334.31L543.88 334.31Z" fill="#8c8e8e"/><path d="M551.99 325.17L555.89 332.19L548.09 332.19Z" fill="#8c8e8e"/><path d="M556.21 323.48L560.11 330.50L552.31 330.50Z" fill="#8c8e8e"/><path d="M560.43 322.26L564.33 329.28L556.53 329.28Z" fill="#8c8e8e"/><path d="M564.64 321.52L568.54 328.54L560.75 328.54Z" fill="#8c8e8e"/><path d="M568.86 321.31L572.76 328.33L564.96 328.33Z" fill="#8c8e8e"/><path d="M573.08 321.67L576.98 328.69L569.18 328.69Z" fill="#8c8e8e"/><path d="M577.30 322.64L581.20 329.66L573.40 329.66Z" fill="#8c8e8e"/><path d="M581.51 324.27L585.41 331.29L577.62 331.29Z" fill="#8c8e8e"/><path d="M585.73 326.62L589.63 333.64L581.83 333.64Z" fill="#8c8e8e"/><path d="M589.95 329.74L593.85 336.76L586.05 336.76Z" fill="#8c8e8e"/><path d="M594.17 333.68L598.07 340.70L590.27 340.70Z" fill="#8c8e8e"/><path d="M598.38 338.53L602.28 345.55L594.49 345.55Z" fill="#8c8e8e"/><path d="M602.60 344.34L606.50 351.36L598.70 351.36Z" fill="#8c8e8e"/><path d="M606.82 351.20L610.72 358.22L602.92 358.22Z" fill="#8c8e8e"/><path d="M611.04 359.18L614.94 366.20L607.14 366.20Z" fill="#8c8e8e"/><path d="M505.60 373.60 L509.82 364.19 L514.03 355.68 L518.25 348.02 L522.47 341.12 L526.69 334.95 L530.90 329.43 L535.12 324.53 L539.34 320.21 L543.56 316.42 L547.77 313.13 L551.99 310.33 L556.21 307.98 L560.43 306.09 L564.64 304.63 L568.86 303.60 L573.08 303.01 L577.30 302.87 L581.51 303.18 L585.73 303.97 L589.95 305.26 L594.17 307.08 L598.38 309.46 L602.60 312.46 L606.82 316.10 L611.04 320.45 L615.25 325.57 L619.47 331.51 L623.69 338.34 L627.91 346.15 L632.12 355.00 L636.34 364.98" stroke="#3c454a" stroke-width="1.0" fill="none" opacity="1" stroke-linejoin="round"/><path d="M505.60 377.95L509.50 370.93L501.70 370.93Z" fill="#3c454a"/><path d="M509.82 368.54L513.72 361.52L505.92 361.52Z" fill="#3c454a"/><path d="M514.03 360.04L517.93 353.02L510.13 353.02Z" fill="#3c454a"/><path d="M518.25 352.37L522.15 345.35L514.35 345.35Z" fill="#3c454a"/><path d="M522.47 345.48L526.37 338.46L518.57 338.46Z" fill="#3c454a"/><path d="M526.69 339.30L530.59 332.28L522.79 332.28Z" fill="#3c454a"/><path d="M530.90 333.78L534.80 326.76L527.00 326.76Z" fill="#3c454a"/><path d="M535.12 328.88L539.02 321.86L531.22 321.86Z" fill="#3c454a"/><path d="M539.34 324.56L543.24 317.54L535.44 317.54Z" fill="#3c454a"/><path d="M543.56 320.77L547.46 313.75L539.66 313.75Z" fill="#3c454a"/><path d="M547.77 317.48L551.67 310.46L543.88 310.46Z" fill="#3c454a"/><path d="M551.99 314.68L555.89 307.66L548.09 307.66Z" fill="#3c454a"/><path d="M556.21 312.34L560.11 305.32L552.31 305.32Z" fill="#3c454a"/><path d="M560.43 310.44L564.33 303.42L556.53 303.42Z" fill="#3c454a"/><path d="M564.64 308.98L568.54 301.96L560.75 301.96Z" fill="#3c454a"/><path d="M568.86 307.95L572.76 300.93L564.96 300.93Z" fill="#3c454a"/><path d="M573.08 307.36L576.98 300.34L569.18 300.34Z" fill="#3c454a"/><path d="M577.30 307.22L581.20 300.20L573.40 300.20Z" fill="#3c454a"/><path d="M581.51 307.53L585.41 300.51L577.62 300.51Z" fill="#3c454a"/><path d="M585.73 308.32L589.63 301.30L581.83 301.30Z" fill="#3c454a"/><path d="M589.95 309.61L593.85 302.59L586.05 302.59Z" fill="#3c454a"/><path d="M594.17 311.43L598.07 304.41L590.27 304.41Z" fill="#3c454a"/><path d="M598.38 313.82L602.28 306.80L594.49 306.80Z" fill="#3c454a"/><path d="M602.60 316.81L606.50 309.79L598.70 309.79Z" fill="#3c454a"/><path d="M606.82 320.45L610.72 313.43L602.92 313.43Z" fill="#3c454a"/><path d="M611.04 324.81L614.94 317.79L607.14 317.79Z" fill="#3c454a"/><path d="M615.25 329.92L619.15 322.90L611.36 322.90Z" fill="#3c454a"/><path d="M619.47 335.86L623.37 328.84L615.57 328.84Z" fill="#3c454a"/><path d="M623.69 342.70L627.59 335.68L619.79 335.68Z" fill="#3c454a"/><path d="M627.91 350.50L631.81 343.48L624.01 343.48Z" fill="#3c454a"/><path d="M632.12 359.35L636.02 352.33L628.23 352.33Z" fill="#3c454a"/><path d="M636.34 369.34L640.24 362.32L632.44 362.32Z" fill="#3c454a"/><path d="M505.60 373.60 L509.82 363.18 L514.03 353.33 L518.25 344.07 L522.47 335.38 L526.69 327.27 L530.90 319.74 L535.12 312.79 L539.34 306.41 L543.56 300.60 L547.77 295.37 L551.99 290.72 L556.21 286.63 L560.43 283.12 L564.64 280.18 L568.86 277.82 L573.08 276.02 L577.30 274.80 L581.51 274.14 L585.73 274.05 L589.95 274.54 L594.17 275.58 L598.38 277.20 L602.60 279.38 L606.82 282.13 L611.04 285.44 L615.25 289.32 L619.47 293.76 L623.69 298.77 L627.91 304.34 L632.12 310.47 L636.34 317.16 L640.56 324.41 L644.78 332.22 L648.99 340.59 L653.21 349.52 L657.43 359.01" stroke="#c0142e" stroke-width="1.0" fill="none" opacity="1" stroke-linejoin="round"/><circle cx="505.60" cy="373.60" r="3.5" fill="url(#gr)" opacity="1"/><circle cx="509.82" cy="363.18" r="3.5" fill="url(#gr)" opacity="1"/><circle cx="514.03" cy="353.33" r="3.5" fill="url(#gr)" opacity="1"/><circle cx="518.25" cy="344.07" r="3.5" fill="url(#gr)" opacity="1"/><circle cx="522.47" cy="335.38" r="3.5" fill="url(#gr)" opacity="1"/><circle cx="526.69" cy="327.27" r="3.5" fill="url(#gr)" opacity="1"/><circle cx="530.90" cy="319.74" r="3.5" fill="url(#gr)" opacity="1"/><circle cx="535.12" cy="312.79" r="3.5" fill="url(#gr)" opacity="1"/><circle cx="539.34" cy="306.41" r="3.5" fill="url(#gr)" opacity="1"/><circle cx="543.56" cy="300.60" r="3.5" fill="url(#gr)" opacity="1"/><circle cx="547.77" cy="295.37" r="3.5" fill="url(#gr)" opacity="1"/><circle cx="551.99" cy="290.72" r="3.5" fill="url(#gr)" opacity="1"/><circle cx="556.21" cy="286.63" r="3.5" fill="url(#gr)" opacity="1"/><circle cx="560.43" cy="283.12" r="3.5" fill="url(#gr)" opacity="1"/><circle cx="564.64" cy="280.18" r="3.5" fill="url(#gr)" opacity="1"/><circle cx="568.86" cy="277.82" r="3.5" fill="url(#gr)" opacity="1"/><circle cx="573.08" cy="276.02" r="3.5" fill="url(#gr)" opacity="1"/><circle cx="577.30" cy="274.80" r="3.5" fill="url(#gr)" opacity="1"/><circle cx="581.51" cy="274.14" r="3.5" fill="url(#gr)" opacity="1"/><circle cx="585.73" cy="274.05" r="3.5" fill="url(#gr)" opacity="1"/><circle cx="589.95" cy="274.54" r="3.5" fill="url(#gr)" opacity="1"/><circle cx="594.17" cy="275.58" r="3.5" fill="url(#gr)" opacity="1"/><circle cx="598.38" cy="277.20" r="3.5" fill="url(#gr)" opacity="1"/><circle cx="602.60" cy="279.38" r="3.5" fill="url(#gr)" opacity="1"/><circle cx="606.82" cy="282.13" r="3.5" fill="url(#gr)" opacity="1"/><circle cx="611.04" cy="285.44" r="3.5" fill="url(#gr)" opacity="1"/><circle cx="615.25" cy="289.32" r="3.5" fill="url(#gr)" opacity="1"/><circle cx="619.47" cy="293.76" r="3.5" fill="url(#gr)" opacity="1"/><circle cx="623.69" cy="298.77" r="3.5" fill="url(#gr)" opacity="1"/><circle cx="627.91" cy="304.34" r="3.5" fill="url(#gr)" opacity="1"/><circle cx="632.12" cy="310.47" r="3.5" fill="url(#gr)" opacity="1"/><circle cx="636.34" cy="317.16" r="3.5" fill="url(#gr)" opacity="1"/><circle cx="640.56" cy="324.41" r="3.5" fill="url(#gr)" opacity="1"/><circle cx="644.78" cy="332.22" r="3.5" fill="url(#gr)" opacity="1"/><circle cx="648.99" cy="340.59" r="3.5" fill="url(#gr)" opacity="1"/><circle cx="653.21" cy="349.52" r="3.5" fill="url(#gr)" opacity="1"/><circle cx="657.43" cy="359.01" r="3.5" fill="url(#gr)" opacity="1"/></g><text transform="translate(481.50 304.10) rotate(-90)" font-size="15.6" text-anchor="middle" font-weight="normal" font-style="normal" fill="#000" font-family='"Liberation Sans", sans-serif'><tspan font-style="italic">P</tspan> (mW)</text><text transform="translate(595.00 409.40) scale(1 1.05)" font-size="15.4" text-anchor="middle" font-weight="normal" font-style="normal" fill="#000" font-family='"Liberation Sans", sans-serif'><tspan font-family='"Liberation Serif", serif' font-style="italic">I</tspan> (A)</text><text transform="translate(277.00 248.70)" font-size="8.35" text-anchor="start" font-weight="normal" font-style="normal" fill="#222" font-family='"Liberation Sans", sans-serif'><tspan dy="0.00" font-size="8.35">(GeMn</tspan><tspan dy="2.34" font-size="5.18">0.005</tspan><tspan dy="-2.34" font-size="8.35">Se)</tspan><tspan dy="2.34" font-size="5.18">0.9</tspan><tspan dy="-2.34" font-size="8.35">(AgBiTe</tspan><tspan dy="2.34" font-size="5.18">2</tspan><tspan dy="-2.34" font-size="8.35">)</tspan><tspan dy="2.34" font-size="5.18">0.1</tspan></text><text transform="translate(441.30 246.50)" font-size="7.3" text-anchor="end" font-weight="normal" font-style="normal" fill="#222" font-family='"Liberation Sans", sans-serif'><tspan font-style="italic">T</tspan><tspan dy="2.2" font-size="5.4">C</tspan><tspan dy="-2.2"> = 298 K</tspan></text><path d="M386.70 255.20H402.60" stroke="#b0c2cc" stroke-width="1.1"/><rect x="391.80" y="252.40" width="5.60" height="5.60" fill="#b0c2cc" stroke="#b0c2cc" stroke-width="0"/><text transform="translate(404.90 257.80)" font-size="7.05" text-anchor="start" font-weight="normal" font-style="normal" fill="#222" font-family='"Liberation Sans", sans-serif'>Δ<tspan font-style="italic">T</tspan> = 185 K</text><path d="M386.70 264.60H402.60" stroke="#8c8e8e" stroke-width="1.1"/><path d="M394.60 260.25L398.50 267.27L390.70 267.27Z" fill="#8c8e8e"/><text transform="translate(404.90 267.20)" font-size="7.05" text-anchor="start" font-weight="normal" font-style="normal" fill="#222" font-family='"Liberation Sans", sans-serif'>Δ<tspan font-style="italic">T</tspan> = 230 K</text><path d="M386.70 274.30H402.60" stroke="#3c454a" stroke-width="1.1"/><path d="M394.60 278.65L398.50 271.63L390.70 271.63Z" fill="#3c454a"/><text transform="translate(404.90 276.90)" font-size="7.05" text-anchor="start" font-weight="normal" font-style="normal" fill="#222" font-family='"Liberation Sans", sans-serif'>Δ<tspan font-style="italic">T</tspan> = 275 K</text><path d="M386.70 283.60H402.60" stroke="#c0142e" stroke-width="1.1"/><circle cx="394.60" cy="283.60" r="3.5" fill="url(#gr)" opacity="1"/><text transform="translate(404.90 286.20)" font-size="7.05" text-anchor="start" font-weight="normal" font-style="normal" fill="#222" font-family='"Liberation Sans", sans-serif'>Δ<tspan font-style="italic">T</tspan> = 325 K</text><text transform="translate(510.00 248.70)" font-size="8.35" text-anchor="start" font-weight="normal" font-style="normal" fill="#222" font-family='"Liberation Sans", sans-serif'><tspan dy="0.00" font-size="8.35">(GeMn</tspan><tspan dy="2.34" font-size="5.18">0.005</tspan><tspan dy="-2.34" font-size="8.35">Se)</tspan><tspan dy="2.34" font-size="5.18">0.9</tspan><tspan dy="-2.34" font-size="8.35">(AgBiTe</tspan><tspan dy="2.34" font-size="5.18">2</tspan><tspan dy="-2.34" font-size="8.35">)</tspan><tspan dy="2.34" font-size="5.18">0.1</tspan></text><text transform="translate(673.70 246.50)" font-size="7.3" text-anchor="end" font-weight="normal" font-style="normal" fill="#222" font-family='"Liberation Sans", sans-serif'><tspan font-style="italic">T</tspan><tspan dy="2.2" font-size="5.4">C</tspan><tspan dy="-2.2"> = 298 K</tspan></text><path d="M619.10 255.80H635.00" stroke="#b0c2cc" stroke-width="1.1"/><rect x="624.20" y="253.00" width="5.60" height="5.60" fill="#b0c2cc" stroke="#b0c2cc" stroke-width="0"/><text transform="translate(637.30 258.40)" font-size="7.05" text-anchor="start" font-weight="normal" font-style="normal" fill="#222" font-family='"Liberation Sans", sans-serif'>Δ<tspan font-style="italic">T</tspan> = 185 K</text><path d="M619.10 265.20H635.00" stroke="#8c8e8e" stroke-width="1.1"/><path d="M627.00 260.85L630.90 267.87L623.10 267.87Z" fill="#8c8e8e"/><text transform="translate(637.30 267.80)" font-size="7.05" text-anchor="start" font-weight="normal" font-style="normal" fill="#222" font-family='"Liberation Sans", sans-serif'>Δ<tspan font-style="italic">T</tspan> = 230 K</text><path d="M619.10 274.90H635.00" stroke="#3c454a" stroke-width="1.1"/><path d="M627.00 279.25L630.90 272.23L623.10 272.23Z" fill="#3c454a"/><text transform="translate(637.30 277.50)" font-size="7.05" text-anchor="start" font-weight="normal" font-style="normal" fill="#222" font-family='"Liberation Sans", sans-serif'>Δ<tspan font-style="italic">T</tspan> = 275 K</text><path d="M619.10 284.20H635.00" stroke="#c0142e" stroke-width="1.1"/><circle cx="627.00" cy="284.20" r="3.5" fill="url(#gr)" opacity="1"/><text transform="translate(637.30 286.80)" font-size="7.05" text-anchor="start" font-weight="normal" font-style="normal" fill="#222" font-family='"Liberation Sans", sans-serif'>Δ<tspan font-style="italic">T</tspan> = 325 K</text><rect x="271.80" y="234.70" width="170.30" height="138.90" fill="none" stroke="#1a1a1a" stroke-width="1.3"/><rect x="505.60" y="235.00" width="168.70" height="138.60" fill="none" stroke="#1a1a1a" stroke-width="1.3"/><path d="M505.60 373.60H674.30" stroke="#747474" stroke-width="1.3"/></svg></body></html>
